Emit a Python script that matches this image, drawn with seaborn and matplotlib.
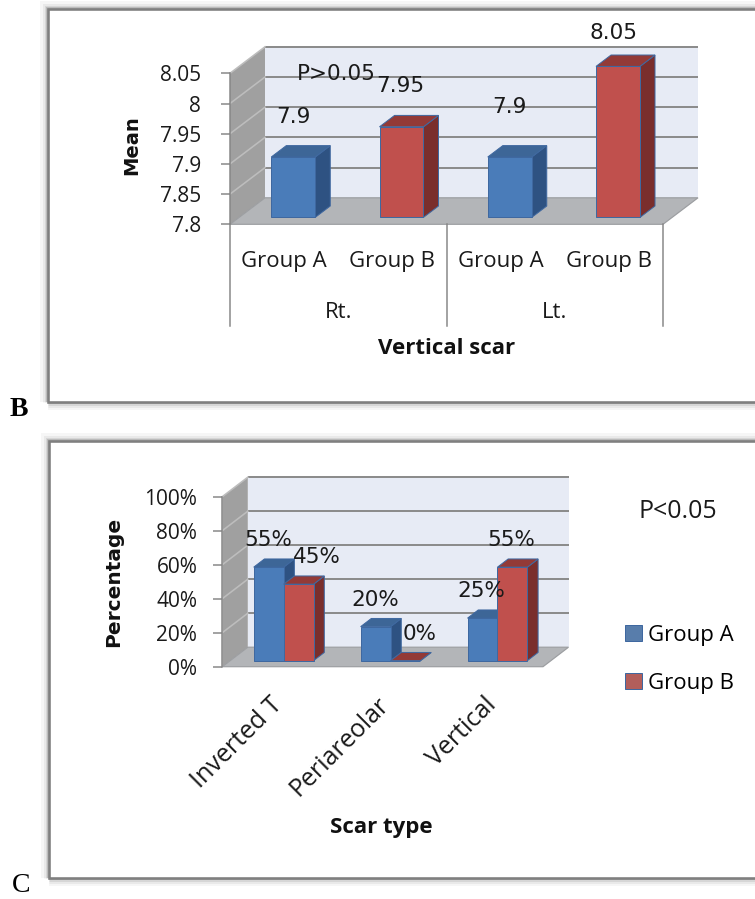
import matplotlib
matplotlib.use("Agg")
import matplotlib.pyplot as plt
import matplotlib.patches as mpatches
import pandas as pd
import seaborn as sns

# ---------------- data ----------------
sides = ["Rt.", "Rt.", "Lt.", "Lt."]
side_order = ["Rt.", "Lt."]
groups = ["Group A", "Group B", "Group A", "Group B"]
group_order = ["Group A", "Group B"]
mean_values = [7.9, 7.95, 7.9, 8.05]
mean_ticks = [7.8, 7.85, 7.9, 7.95, 8.0, 8.05]
mean_tick_labels = ["7.8", "7.85", "7.9", "7.95", "8", "8.05"]

scar_types = ["Inverted T", "Periareolar", "Vertical"]
group_a_pct = [55, 20, 25]
group_b_pct = [45, 0, 55]
pct_ticks = [0, 20, 40, 60, 80, 100]
pct_tick_labels = ["0%", "20%", "40%", "60%", "80%", "100%"]

# ---------------- style ----------------
W, H, DPI = 755, 899, 100
PT = 72 / DPI                      # points per pixel
BLUE = ("#4a7cb9", "#3d6697", "#2e5282")   # front, top, side
RED = ("#c0504d", "#933a37", "#7a2e2c")
BAR_EDGE = "#3f68a0"
BACK = "#e7ebf5"
SIDE = "#a0a0a0"
FLOOR = "#b3b5b8"
GRID = "#8c8c8c"
AXIS = "#868686"
SANS = "Open Sans"
LABEL = "DejaVu Sans"

fig = plt.figure(figsize=(W / DPI, H / DPI), dpi=DPI)
fig.patch.set_facecolor("white")


def fig_box(x0, y0, x1, y1):
    """Pixel box (y down) -> figure-fraction rectangle."""
    return [x0 / W, 1 - y1 / H, (x1 - x0) / W, (y1 - y0) / H]


def fig_xy(x, y):
    return x / W, 1 - y / H


def add_frame(x0, y0, x1, y1):
    l, b, w, h = fig_box(x0, y0, x1, y1)
    for lw, a in [(16, 0.035), (11, 0.05), (7, 0.08), (4, 0.12)]:
        fig.add_artist(mpatches.Rectangle((l, b), w, h, transform=fig.transFigure,
                                          fill=False, ec="black", lw=lw * PT,
                                          alpha=a, zorder=-6))
    fig.add_artist(mpatches.Rectangle((l, b), w, h, transform=fig.transFigure,
                                      fc="white", ec="#7f7f7f", lw=2.6 * PT,
                                      zorder=-5))


def px_to_data(ax, dx_px, dy_px):
    """Pixel offset (y up) -> data offset on ax."""
    bb = ax.get_position()
    xa, xb = ax.get_xlim()
    ya, yb = ax.get_ylim()
    return (dx_px / (bb.width * W) * (xb - xa),
            dy_px / (bb.height * H) * (yb - ya))


def draw_room(ax, ticks, depth_px):
    xa, xb = ax.get_xlim()
    ya, yb = ax.get_ylim()
    DX, DY = px_to_data(ax, *depth_px)
    ax.add_patch(mpatches.Polygon([(xa, ya), (xa + DX, ya + DY), (xa + DX, yb + DY), (xa, yb)],
                                  closed=True, fc=SIDE, ec="none", clip_on=False, zorder=0.5))
    ax.add_patch(mpatches.Rectangle((xa + DX, ya + DY), xb - xa, yb - ya,
                                    fc=BACK, ec="none", clip_on=False, zorder=0.5))
    for t in ticks[1:]:
        ax.plot([xa + DX, xb + DX], [t + DY, t + DY], color=GRID, lw=2.0 * PT,
                clip_on=False, zorder=1, solid_capstyle="butt")
        ax.plot([xa, xa + DX], [t, t + DY], color="#bdbdbd", lw=1.6 * PT,
                clip_on=False, zorder=1)
    ax.add_patch(mpatches.Polygon([(xa, ya), (xb, ya), (xb + DX, ya + DY), (xa + DX, ya + DY)],
                                  closed=True, fc=FLOOR, ec="#9c9ea1", lw=1.2 * PT,
                                  clip_on=False, zorder=2))


def make_bars_3d(ax, base, depth_px, front_frac, bar_frac, palettes):
    """Turn the flat seaborn bars into Excel-style 3D columns."""
    fx, fy = px_to_data(ax, depth_px[0] * front_frac, depth_px[1] * front_frac)
    bx, by = px_to_data(ax, depth_px[0] * bar_frac, depth_px[1] * bar_frac)
    bars = []
    for hue_i, container in enumerate(ax.containers):
        for rect in container:
            bars.append((rect.get_x(), rect, hue_i))
    bars.sort(key=lambda t: t[0])
    tops = []
    for k, (_, rect, hue_i) in enumerate(bars):
        front, top, side = palettes[hue_i]
        value = rect.get_height()
        x0 = rect.get_x() + fx
        w = rect.get_width()
        y0 = base + fy
        h = value - base
        rect.set_x(x0)
        rect.set_y(y0)
        rect.set_height(h)
        rect.set_facecolor(front)
        rect.set_edgecolor(BAR_EDGE)
        rect.set_linewidth(1.0 * PT)
        rect.set_clip_on(False)
        z = 3 + k * 0.1
        rect.set_zorder(z + 0.05)
        yt = y0 + h
        ax.add_patch(mpatches.Polygon([(x0 + w, y0), (x0 + w + bx, y0 + by),
                                       (x0 + w + bx, yt + by), (x0 + w, yt)],
                                      closed=True, fc=side, ec=BAR_EDGE, lw=1.0 * PT,
                                      clip_on=False, zorder=z))
        ax.add_patch(mpatches.Polygon([(x0, yt), (x0 + w, yt), (x0 + w + bx, yt + by),
                                       (x0 + bx, yt + by)],
                                      closed=True, fc=top, ec=BAR_EDGE, lw=1.0 * PT,
                                      clip_on=False, zorder=z))
        tops.append((x0 + w / 2, yt, value))
    return tops


def style_left_axis(ax, ticks, labels, pad_pt):
    for s in ["top", "right", "bottom"]:
        ax.spines[s].set_visible(False)
    ax.spines["left"].set_color(AXIS)
    ax.spines["left"].set_linewidth(1.5 * PT)
    ax.set_facecolor("none")
    ax.set_yticks(ticks)
    ax.set_yticklabels(labels, fontfamily=SANS, fontsize=15, color="#1a1a1a")
    ax.tick_params(axis="y", direction="out", length=9 * PT, width=1.5 * PT,
                   color=AXIS, pad=pad_pt)
    ax.set_xticks([])
    ax.set_xlabel("")
    ax.set_ylabel("")


def label_bars(ax, tops, texts, offsets_px, size):
    for (x, y, _), txt, (ox, oy) in zip(tops, texts, offsets_px):
        dx, dy = px_to_data(ax, ox, -oy)
        ax.text(x + dx, y + dy, txt, ha="center", va="center", fontfamily=LABEL,
                fontsize=size, color="#1a1a1a", zorder=20, clip_on=False)


# ---------------- frames & panel letters ----------------
add_frame(48, 9, 790, 401.5)
add_frame(49, 440.5, 790, 877.5)
fig.text(*fig_xy(19, 410), "B", fontfamily="Liberation Serif", fontweight="bold",
         fontsize=20, ha="center", va="center")
fig.text(*fig_xy(21, 886), "C", fontfamily="Liberation Serif",
         fontsize=20, ha="center", va="center")

# ---------------- panel B: mean, vertical scar ----------------
axB = fig.add_axes(fig_box(230, 73.3, 663, 224.3))
dfB = pd.DataFrame({"side": sides, "group": groups, "mean": mean_values})
sns.barplot(data=dfB, x="side", y="mean", hue="group", order=side_order,
            hue_order=group_order, palette=[BLUE[0], RED[0]], width=1.0, gap=0.594,
            errorbar=None, legend=False, ax=axB)
axB.set_xlim(-0.5, 1.5)
axB.set_ylim(mean_ticks[0], mean_ticks[-1])
style_left_axis(axB, mean_ticks, mean_tick_labels, pad_pt=14.5)
depthB = (35, 26.5)
draw_room(axB, mean_ticks, depthB)
topsB = make_bars_3d(axB, mean_ticks[0], depthB, 0.26, 0.43,
                     [BLUE, RED])
label_bars(axB, topsB, [f"{v:g}" for (_, _, v) in topsB],
           [(0, -40), (-1, -41), (0, -50), (-4, -33)], 15.5)

# two-level category axis
xt = axB.get_xaxis_transform()
sep_bottom = (224.3 - 326) / 151.0
for xs in [-0.5, 0.5, 1.5]:
    axB.plot([xs, xs], [0, sep_bottom], color=AXIS, lw=1.5 * PT,
             transform=xt, clip_on=False)
for i, side in enumerate(side_order):
    for j, g in enumerate(group_order):
        axB.text(i - 0.25 + 0.5 * j, (224.3 - 261) / 151.0, g, transform=xt,
                 ha="center", va="center", fontfamily=SANS, fontsize=16, color="#1a1a1a")
    axB.text(i, (224.3 - 312) / 151.0, side, transform=xt, ha="center", va="center",
             fontfamily=SANS, fontsize=16, color="#1a1a1a")
axB.text(0.5, (224.3 - 349) / 151.0, "Vertical scar", transform=xt, ha="center",
         va="center", fontfamily=SANS, fontweight="bold", fontsize=16, color="#111111")
axB.text((132 - 230) / 433.0, (224.3 - 145) / 151.0, "Mean", transform=axB.transAxes,
         rotation=90, ha="center", va="center", fontfamily=LABEL, fontweight="bold",
         fontsize=14, color="#111111")
fig.text(*fig_xy(336.5, 74), "P>0.05", fontfamily=LABEL, fontsize=15.5,
         ha="center", va="center", color="#1a1a1a", zorder=30)

# ---------------- panel C: percentage by scar type ----------------
axC = fig.add_axes(fig_box(222.3, 496.7, 543, 666.7))
dfC = pd.DataFrame({
    "scar": scar_types * 2,
    "group": ["Group A"] * len(scar_types) + ["Group B"] * len(scar_types),
    "pct": group_a_pct + group_b_pct,
})
sns.barplot(data=dfC, x="scar", y="pct", hue="group", order=scar_types,
            hue_order=group_order, palette=[BLUE[0], RED[0]], width=0.56,
            errorbar=None, ax=axC, edgecolor=BAR_EDGE, linewidth=1.0 * PT)
axC.set_xlim(-0.5, len(scar_types) - 0.5)
axC.set_ylim(pct_ticks[0], pct_ticks[-1])
style_left_axis(axC, pct_ticks, pct_tick_labels, pad_pt=11.5)
depthC = (25.5, 19.5)
draw_room(axC, pct_ticks, depthC)
topsC = make_bars_3d(axC, pct_ticks[0], depthC, 0.31, 0.42, [BLUE, RED])
label_bars(axC, topsC, [f"{v:g}%" for (_, _, v) in topsC],
           [(0, -27), (18.5, -27), (0, -27), (14, -27), (-1.5, -27), (-0.7, -27)], 15.5)

for i, name in enumerate(scar_types):
    dx, _ = px_to_data(axC, -6, 0)
    axC.text(i + dx, (666.7 - 692) / 170.0, name, transform=axC.get_xaxis_transform(),
             rotation=45, rotation_mode="anchor", ha="right", va="top",
             fontfamily=SANS, fontsize=18, color="#1a1a1a")
fig.text(*fig_xy(381, 828), "Scar type", fontfamily=SANS, fontweight="bold",
         fontsize=16, ha="center", va="center", color="#111111")
fig.text(*fig_xy(113.5, 581.5), "Percentage", fontfamily=LABEL, fontweight="bold",
         fontsize=14.5, rotation=90, ha="center", va="center", color="#111111")
fig.text(*fig_xy(677.5, 511.5), "P<0.05", fontfamily=SANS, fontsize=18,
         ha="center", va="center", color="#1a1a1a")

sns.move_legend(axC, "upper left", bbox_to_anchor=fig_xy(625, 625),
                bbox_transform=fig.transFigure, frameon=False, title=None,
                prop={"family": SANS, "size": 16}, handlelength=0.78,
                handleheight=0.75, handletextpad=0.25, labelspacing=1.2,
                borderpad=0, borderaxespad=0)

fig.savefig("out.png", dpi=DPI, facecolor="white")
